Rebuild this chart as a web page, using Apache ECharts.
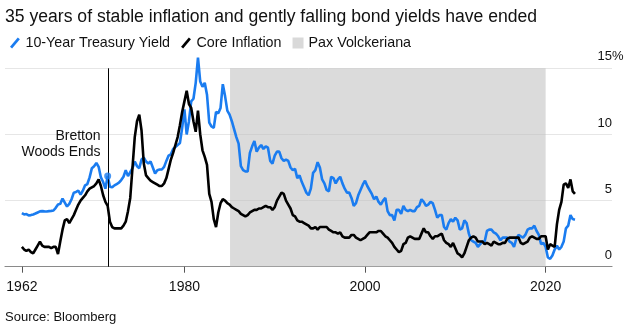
<!DOCTYPE html>
<html><head><meta charset="utf-8">
<script src="https://cdn.jsdelivr.net/npm/echarts@6/dist/echarts.min.js"></script>
<style>html,body{margin:0;padding:0;background:#fff}#c{width:642px;height:330px}</style>
</head><body><div id="c"></div><script>
// Quarterly observations starting 1962 Q1
const startYear = 1962.0;
const stepYears = 0.25;
const yieldValues = [
  4.05,3.95,3.98,3.88, 3.90,3.95,4.02,4.10, 4.18,4.20,4.18,4.17, 4.20,4.22,4.25,4.45,
  4.70,4.75,5.15,4.85, 4.55,4.75,5.10,5.60, 5.65,5.75,5.45,5.75, 6.15,6.25,6.75,7.45,
  7.60,7.85,7.55,6.75, 6.40,5.90,6.85,6.05, 6.00,6.15,6.25,6.35, 6.55,6.80,7.30,6.85,
  7.15,7.45,7.95,7.60, 7.45,8.10,8.25,7.95, 7.80,7.95,7.50,7.05, 7.30,7.35,7.35,7.55,
  8.00,8.40,8.50,8.90, 9.05,9.20,9.35,10.50, 11.90,10.00,11.00,12.50, 12.70,13.90,15.80,14.00,
  13.60,13.90,13.00,10.90, 10.60,10.50,11.70,11.60, 12.00,13.80,12.90,11.80, 11.50,11.00,10.40,9.80,
  9.30,7.60,7.30,7.20, 7.20,8.60,9.10,9.50, 8.70,9.00,9.20,8.90, 9.10,9.00,8.00,7.80,
  8.40,8.70,8.70,8.20, 8.00,8.10,8.00,7.50, 7.30,7.40,6.70,6.90, 6.40,6.00,5.60,5.40,
  5.90,7.10,7.30,7.90, 7.50,6.60,6.30,5.80, 5.70,6.80,6.70,6.30, 6.60,6.80,6.30,5.90,
  5.60,5.60,5.20,4.60, 4.80,5.40,5.80,6.20, 6.50,6.10,5.80,5.50, 5.10,5.30,4.90,4.70,
  5.00,5.20,4.20,3.90, 3.90,3.50,4.30,4.30, 4.00,4.60,4.30,4.20, 4.30,4.20,4.20,4.50,
  4.60,5.10,4.90,4.60, 4.70,4.90,4.80,4.30, 3.70,3.90,3.90,3.00, 2.80,3.30,3.60,3.40,
  3.70,3.50,2.80,2.90, 3.50,3.30,2.50,2.00, 1.90,1.80,1.50,1.70, 1.90,1.90,2.70,2.80,
  2.80,2.60,2.50,2.30, 2.00,2.20,2.20,2.20, 1.90,1.80,1.50,2.10, 2.40,2.30,2.20,2.40,
  2.80,2.90,2.90,3.10, 2.70,2.40,1.70,1.80, 1.50,0.70,0.60,0.85, 1.30,1.60,1.30,1.50,
  1.90,2.90,3.10,3.90, 3.60,3.55
];
const coreValues = [
  1.50,1.30,1.20,1.30, 1.10,1.00,1.30,1.60, 1.90,1.60,1.50,1.50, 1.50,1.40,1.50,1.50,
  0.95,1.90,2.80,3.50, 3.60,3.30,3.60,3.90, 4.30,4.70,5.00,5.20, 5.40,5.70,5.90,6.00,
  6.10,6.30,6.60,6.10, 5.40,4.90,4.60,3.40, 3.00,2.90,2.90,2.90, 2.90,3.10,3.40,4.20,
  5.20,7.50,9.80,11.00, 11.50,10.30,7.80,6.90, 6.70,6.50,6.40,6.30, 6.20,6.10,6.10,6.30,
  6.70,7.40,8.10,8.60, 9.20,9.80,10.70,11.70, 12.50,13.30,12.30,12.00, 11.00,10.20,11.80,10.00,
  8.80,8.30,7.70,5.50, 4.90,3.60,3.00,4.10, 4.80,5.10,5.00,4.80, 4.70,4.50,4.40,4.30,
  4.20,4.00,3.90,3.80, 3.90,4.10,4.20,4.30, 4.30,4.40,4.40,4.50, 4.60,4.50,4.50,4.30,
  4.50,5.00,5.30,5.60, 5.50,5.00,4.70,4.40, 3.90,3.80,3.50,3.40, 3.40,3.30,3.20,3.10,
  2.90,2.90,3.00,2.80, 3.00,3.00,3.00,3.00, 2.80,2.70,2.60,2.60, 2.50,2.60,2.30,2.20,
  2.20,2.20,2.40,2.40, 2.20,2.10,2.00,2.10, 2.20,2.40,2.60,2.60, 2.60,2.60,2.70,2.70,
  2.50,2.30,2.20,2.00, 1.80,1.50,1.30,1.10, 1.20,1.70,1.80,2.20, 2.30,2.20,2.10,2.10,
  2.10,2.50,2.90,2.60, 2.60,2.30,2.10,2.30, 2.30,2.40,2.50,2.00, 1.80,1.70,1.50,1.80,
  1.40,1.00,0.90,0.70, 1.00,1.50,2.00,2.20, 2.30,2.20,1.90,1.90, 1.90,1.70,1.80,1.70,
  1.60,1.90,1.80,1.70, 1.70,1.80,1.80,2.10, 2.20,2.20,2.20,2.20, 2.20,1.80,1.70,1.80,
  1.90,2.20,2.30,2.20, 2.10,2.10,2.30,2.30, 2.30,1.30,1.70,1.60, 1.50,3.20,4.30,4.90,
  6.20,6.30,5.95,6.60, 5.70,5.50
];
const xTickYears = [1962, 1980, 2000, 2020];
const yTickValues = [0, 5, 10, 15];
const paxStart = 1985.05, paxEnd = 2020.0;
const brettonWoodsYear = 1971.6;
const xMin = 1960.13, xMax = 2027.35;

const toPairs = vals => vals.map((v, i) => [startYear + i * stepYears, v]);
const yieldData = toPairs(yieldValues);
const coreData = toPairs(coreValues);
// marker on the yield line at Bretton Woods
let bwIdx = 0;
yieldData.forEach((p, i) => { if (Math.abs(p[0] - brettonWoodsYear) < Math.abs(yieldData[bwIdx][0] - brettonWoodsYear)) bwIdx = i; });

const FONT = '"Liberation Sans", Arial, sans-serif';
const BLUE = '#1a7cf0';
const slash = 'path://M0,9 L7.5,0 L9.5,1.6 L2,10.6 Z';

const chart = echarts.init(document.getElementById('c'), null, {renderer: 'canvas'});
chart.setOption({
  animation: false,
  backgroundColor: '#fff',
  textStyle: {fontFamily: FONT},
  title: {
    text: '35 years of stable inflation and gently falling bond yields have ended',
    left: 0, top: 3,
    textStyle: {fontSize: 17.6, fontWeight: 'normal', color: '#111', fontFamily: FONT}
  },
  legend: {
    left: 5, top: 31, itemWidth: 11, itemHeight: 11, itemGap: 11,
    textStyle: {fontSize: 14.3, color: '#111', fontFamily: FONT},
    data: [
      {name: '10-Year Treasury Yield', icon: slash},
      {name: 'Core Inflation', icon: slash},
      {name: 'Pax Volckeriana', icon: 'rect'}
    ]
  },
  grid: {left: 5, right: 30, top: 68.3, bottom: 63.3},
  xAxis: {
    type: 'value', min: xMin, max: xMax,
    splitLine: {show: false},
    axisLine: {lineStyle: {color: '#8a8a8a', width: 1.2}},
    axisTick: {show: true, customValues: xTickYears, length: 6, lineStyle: {color: '#555'}},
    axisLabel: {customValues: xTickYears, margin: 13, fontSize: 14, color: '#111', fontFamily: FONT,
      formatter: v => String(Math.round(v))}
  },
  yAxis: {
    type: 'value', position: 'right', min: 0, max: 15, interval: 5,
    axisLine: {show: false}, axisTick: {show: false},
    splitLine: {lineStyle: {color: '#e6e6e6', width: 1}},
    axisLabel: {inside: true, margin: 0, fontSize: 13, color: '#111', fontFamily: FONT,
      verticalAlign: 'bottom', padding: [0, 0, 5, 0], align: 'right'}
  },
  series: [
    {
      name: 'Pax Volckeriana', type: 'line', data: [], z: 1,
      itemStyle: {color: '#d9d9d9'}, lineStyle: {color: '#d9d9d9'},
      markArea: {silent: true, itemStyle: {color: 'rgba(190,190,190,0.55)'},
        data: [[{xAxis: paxStart, yAxis: 0}, {xAxis: paxEnd, yAxis: 15}]]},
      markLine: {silent: true, symbol: 'none', label: {show: false},
        lineStyle: {color: '#000', width: 1, type: 'solid'},
        data: [{xAxis: brettonWoodsYear}]}
    },
    {
      name: '10-Year Treasury Yield', type: 'line', data: yieldData, z: 3, clip: false,
      showSymbol: false, symbol: 'none',
      itemStyle: {color: BLUE}, lineStyle: {color: BLUE, width: 2.6}
    },
    {
      name: 'Core Inflation', type: 'line', data: coreData, z: 4, clip: false,
      showSymbol: false, symbol: 'none',
      itemStyle: {color: '#000'}, lineStyle: {color: '#000', width: 2.6}
    },
    {
      name: 'bw-marker', type: 'scatter', z: 5, symbolSize: 7,
      itemStyle: {color: BLUE}, data: [yieldData[bwIdx]]
    }
  ]
});

// extra text: "%" suffix on the top tick, annotation, source
const topY = chart.convertToPixel({yAxisIndex: 0}, yTickValues[yTickValues.length - 1]);
const rightX = chart.convertToPixel({xAxisIndex: 0}, xMax);
const bwX = chart.convertToPixel({xAxisIndex: 0}, brettonWoodsYear);
const annY = chart.convertToPixel({yAxisIndex: 0}, 9.3);
chart.setOption({
  graphic: [
    {type: 'text', x: rightX, y: topY - 5, style: {text: '%', fontSize: 13, fill: '#111', font: '13px ' + FONT, textAlign: 'left', textVerticalAlign: 'bottom'}},
    {type: 'text', x: bwX - 8, y: annY, style: {text: 'Bretton\nWoods Ends', font: '14px ' + FONT, fill: '#111', textAlign: 'right', textVerticalAlign: 'middle', lineHeight: 16}},
    {type: 'text', left: 5, top: 311, style: {text: 'Source: Bloomberg', font: '13px ' + FONT, fill: '#111'}}
  ]
});
</script></body></html>
